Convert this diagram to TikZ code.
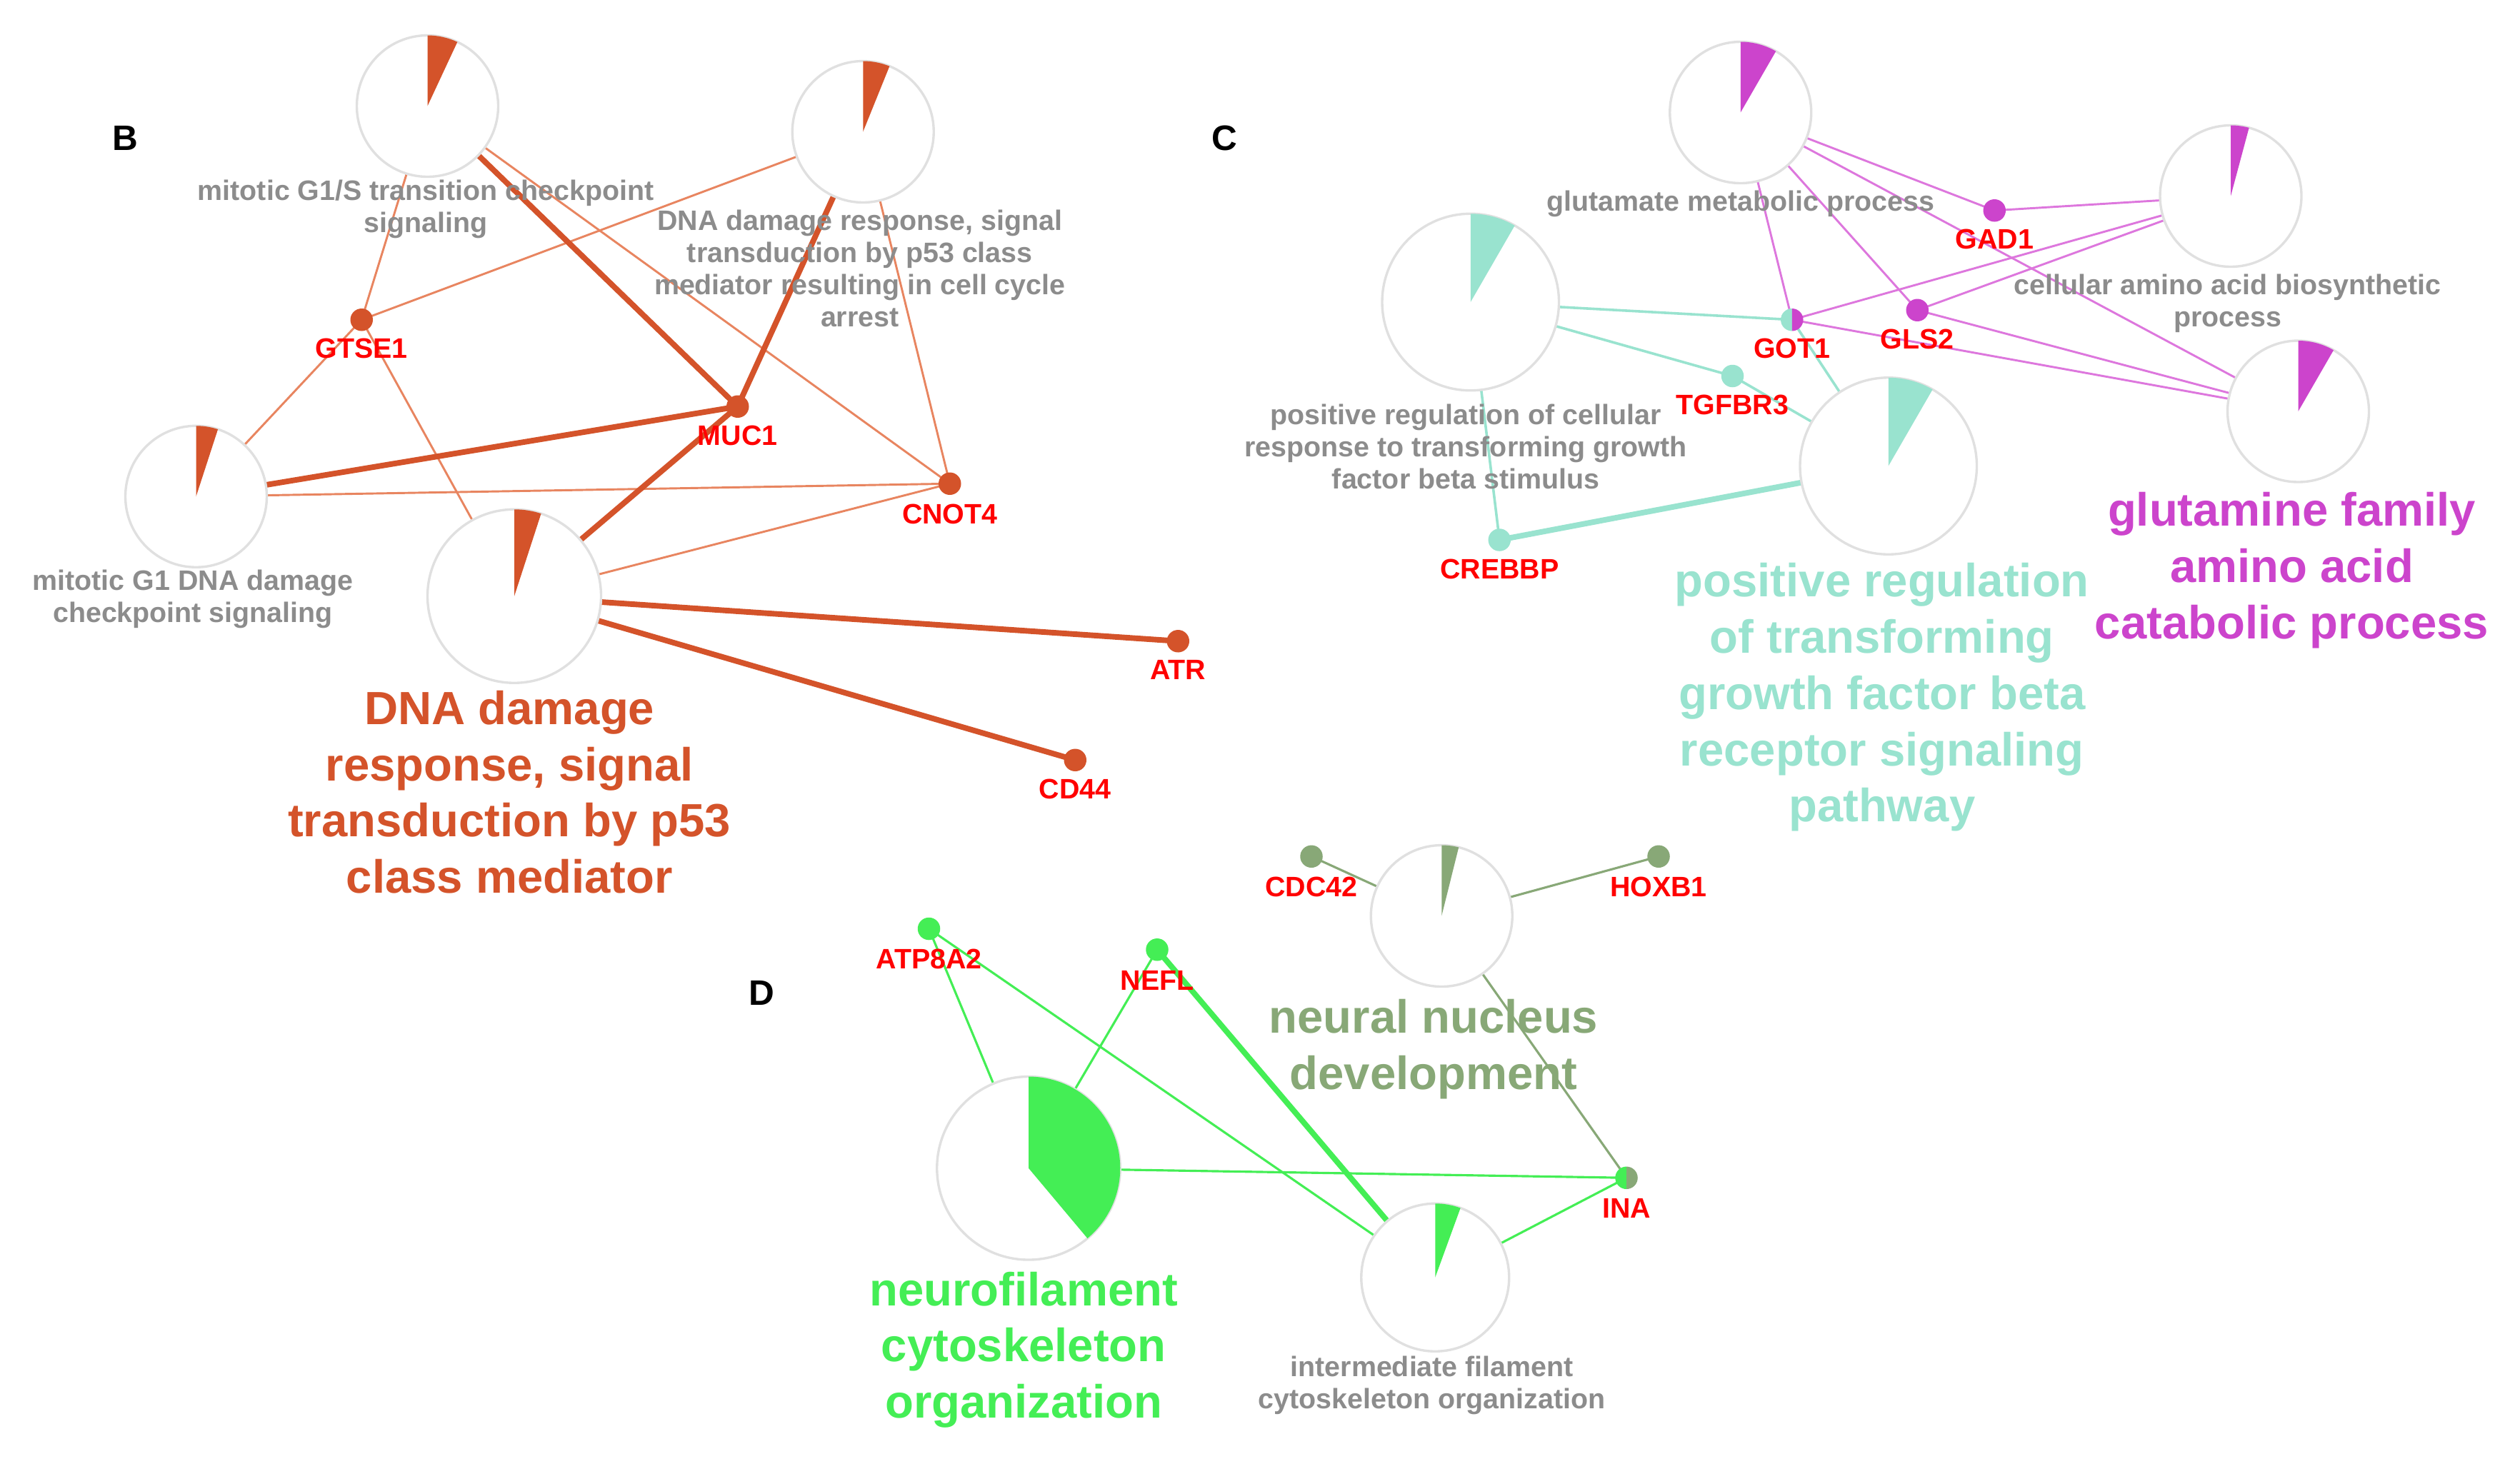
\documentclass[tikz,border=0pt]{standalone}
\usepackage{fontspec}
\setmainfont{Liberation Sans}
\begin{document}
\begin{tikzpicture}[x=1pt,y=1pt]
\definecolor{cB}{HTML}{D4532A}
\definecolor{cBe}{HTML}{E88560}
\definecolor{cP}{HTML}{CC44CC}
\definecolor{cPe}{HTML}{DD77DD}
\definecolor{cT}{HTML}{99E3CF}
\definecolor{cG}{HTML}{44EE55}
\definecolor{cO}{HTML}{88A877}
\definecolor{gtxt}{HTML}{8C8C8C}
\tikzset{
 thinB/.style={draw=cBe,line width=1.3pt},
 thickB/.style={draw=cB,line width=3.5pt},
 thinP/.style={draw=cPe,line width=1.3pt},
 thinT/.style={draw=cT,line width=1.6pt},
 thickT/.style={draw=cT,line width=3.5pt},
 thinG/.style={draw=cG,line width=1.4pt},
 thickG/.style={draw=cG,line width=3.5pt},
 thinO/.style={draw=cO,line width=1.4pt},
 gl/.style={text=gtxt,font=\fontsize{17.5}{20}\selectfont\bfseries,align=center,inner sep=0pt},
 gene/.style={text=red,font=\fontsize{17.5}{20}\selectfont\bfseries,inner sep=0pt},
 big/.style={font=\fontsize{29}{35}\selectfont\bfseries,align=center,inner sep=0pt},
 letter/.style={font=\fontsize{22}{26}\selectfont\bfseries},
 ring/.style={draw=black!12,fill=white,line width=1.5pt}
}
\newcommand{\pie}[6]{\path[ring] (#1) circle[radius=#2];
 \fill[#4] (#1) -- ++(90:#2) arc[start angle=90,end angle=90-#3,radius=#2] -- cycle;}
\newcommand{\gdot}[2]{\fill[#2] (#1) circle[radius=7];}
\useasboundingbox (0,0) rectangle (1568,-914);
% B coordinates
\coordinate (P1) at (266,-66); \coordinate (P2) at (537,-82);
\coordinate (P3) at (122,-309); \coordinate (P4) at (320,-371);
\coordinate (GTSE1) at (225,-199); \coordinate (MUC1) at (459,-253);
\coordinate (CNOT4) at (591,-301); \coordinate (ATR) at (733,-399);
\coordinate (CD44) at (669,-473);
\draw[thinB] (P1)--(GTSE1); \draw[thinB] (P1)--(CNOT4);
\draw[thinB] (P2)--(GTSE1); \draw[thinB] (P2)--(CNOT4);
\draw[thinB] (P3)--(GTSE1); \draw[thinB] (P3)--(CNOT4);
\draw[thinB] (P4)--(GTSE1); \draw[thinB] (P4)--(CNOT4);
\draw[thickB] (P1)--(MUC1); \draw[thickB] (P2)--(MUC1);
\draw[thickB] (P3)--(MUC1); \draw[thickB] (P4)--(MUC1);
\draw[thickB] (P4)--(ATR); \draw[thickB] (P4)--(CD44);
\pie{P1}{44}{25}{cB}{}{} \pie{P2}{44}{22}{cB}{}{}
\pie{P3}{44}{18}{cB}{}{} \pie{P4}{54}{18}{cB}{}{}
\foreach \g in {GTSE1,MUC1,CNOT4,ATR,CD44}{\gdot{\g}{cB}}
\node[gene] (lGTSE1) at (225,-217) {GTSE1};
\node[gene] (lMUC1) at (459,-271) {MUC1};
\node[gene] (lCNOT4) at (591,-320) {CNOT4};
\node[gene] (lATR) at (733,-417) {ATR};
\node[gene] (lCD44) at (669,-491) {CD44};
\node[gl] (t1) at (265,-130) {mitotic G1/S transition checkpoint\\signaling};
\node[gl] (t2) at (535,-167) {DNA damage response, signal\\transduction by p53 class\\mediator resulting in cell cycle\\arrest};
\node[gl] (t3) at (120,-373) {mitotic G1 DNA damage\\checkpoint signaling};
\node[big,text=cB] (t4) at (317,-493) {DNA damage\\response, signal\\transduction by p53\\class mediator};
\node[letter] (LB) at (78,-86) {B};
% C
\coordinate (Q1) at (1083,-70); \coordinate (Q2) at (1388,-122);
\coordinate (Q3) at (1430,-256); \coordinate (Q4) at (915,-188);
\coordinate (Q5) at (1175,-290);
\coordinate (GAD1) at (1241,-131); \coordinate (GOT1) at (1115,-199);
\coordinate (GLS2) at (1193,-193); \coordinate (TGFBR3) at (1078,-234);
\coordinate (CREBBP) at (933,-336);
\draw[thinP] (Q1)--(GAD1); \draw[thinP] (Q1)--(GOT1); \draw[thinP] (Q1)--(GLS2);
\draw[thinP] (Q1)--(Q3);
\draw[thinP] (GAD1)--(Q2); \draw[thinP] (GOT1)--(Q2); \draw[thinP] (GLS2)--(Q2);
\draw[thinP] (GOT1)--(Q3); \draw[thinP] (GLS2)--(Q3);
\draw[thinT] (Q4)--(GOT1); \draw[thinT] (Q4)--(TGFBR3); \draw[thinT] (Q4)--(CREBBP);
\draw[thinT] (Q5)--(GOT1); \draw[thinT] (Q5)--(TGFBR3);
\draw[thickT] (Q5)--(CREBBP);
\pie{Q1}{44}{30}{cP}{}{} \pie{Q2}{44}{15}{cP}{}{}
\pie{Q3}{44}{30}{cP}{}{} \pie{Q4}{55}{30}{cT}{}{} \pie{Q5}{55}{30}{cT}{}{}
\gdot{GAD1}{cP} \gdot{GLS2}{cP} \gdot{TGFBR3}{cT} \gdot{CREBBP}{cT}
\fill[cT] (GOT1) -- ++(90:7) arc[start angle=90,end angle=270,radius=7] -- cycle;
\fill[cP] (GOT1) -- ++(90:7) arc[start angle=90,end angle=-90,radius=7] -- cycle;
\node[gene] (lGAD1) at (1241,-149) {GAD1};
\node[gene] (lGOT1) at (1115,-217) {GOT1};
\node[gene] (lGLS2) at (1193,-211) {GLS2};
\node[gene] (lTGFBR3) at (1078,-252) {TGFBR3};
\node[gene] (lCREBBP) at (933,-354) {CREBBP};
\node[gl] (u1) at (1083,-127) {glutamate metabolic process};
\node[gl] (u2) at (1386,-189) {cellular amino acid biosynthetic\\process};
\node[gl] (u3) at (912,-278) {positive regulation of cellular\\response to transforming growth\\factor beta stimulus};
\node[big,text=cT] (u4) at (1171,-434) {positive regulation\\of transforming\\growth factor beta\\receptor signaling\\pathway};
\node[big,text=cP] (u5) at (1426,-355) {glutamine family\\amino acid\\catabolic process};
\node[letter] (LC) at (762,-86) {C};
% D
\coordinate (R1) at (897,-570); \coordinate (R2) at (640,-727);
\coordinate (R3) at (893,-795);
\coordinate (CDC42) at (816,-533); \coordinate (HOXB1) at (1032,-533);
\coordinate (ATP8A2) at (578,-578); \coordinate (NEFL) at (720,-591);
\coordinate (INA) at (1012,-733);
\draw[thinO] (R1)--(CDC42); \draw[thinO] (R1)--(HOXB1); \draw[thinO] (R1)--(INA);
\draw[thinG] (R2)--(ATP8A2); \draw[thinG] (R2)--(NEFL); \draw[thinG] (R2)--(INA);
\draw[thinG] (R3)--(ATP8A2); \draw[thinG] (R3)--(INA);
\draw[thickG] (R3)--(NEFL);
\pie{R1}{44}{14}{cO}{}{} \pie{R2}{57}{140}{cG}{}{} \pie{R3}{46}{20}{cG}{}{}
\gdot{CDC42}{cO} \gdot{HOXB1}{cO} \gdot{ATP8A2}{cG} \gdot{NEFL}{cG}
\fill[cG] (INA) -- ++(90:7) arc[start angle=90,end angle=270,radius=7] -- cycle;
\fill[cO] (INA) -- ++(90:7) arc[start angle=90,end angle=-90,radius=7] -- cycle;
\node[gene] (lCDC42) at (816,-552) {CDC42};
\node[gene] (lHOXB1) at (1032,-552) {HOXB1};
\node[gene] (lATP8A2) at (578,-597) {ATP8A2};
\node[gene] (lNEFL) at (720,-610) {NEFL};
\node[gene] (lINA) at (1012,-752) {INA};
\node[big,text=cO] (v1) at (892,-653) {neural nucleus\\development};
\node[big,text=cG] (v2) at (637,-840) {neurofilament\\cytoskeleton\\organization};
\node[gl] (v3) at (891,-862) {intermediate filament\\cytoskeleton organization};
\node[letter] (LD) at (474,-618) {D};
\end{tikzpicture}
\end{document}
